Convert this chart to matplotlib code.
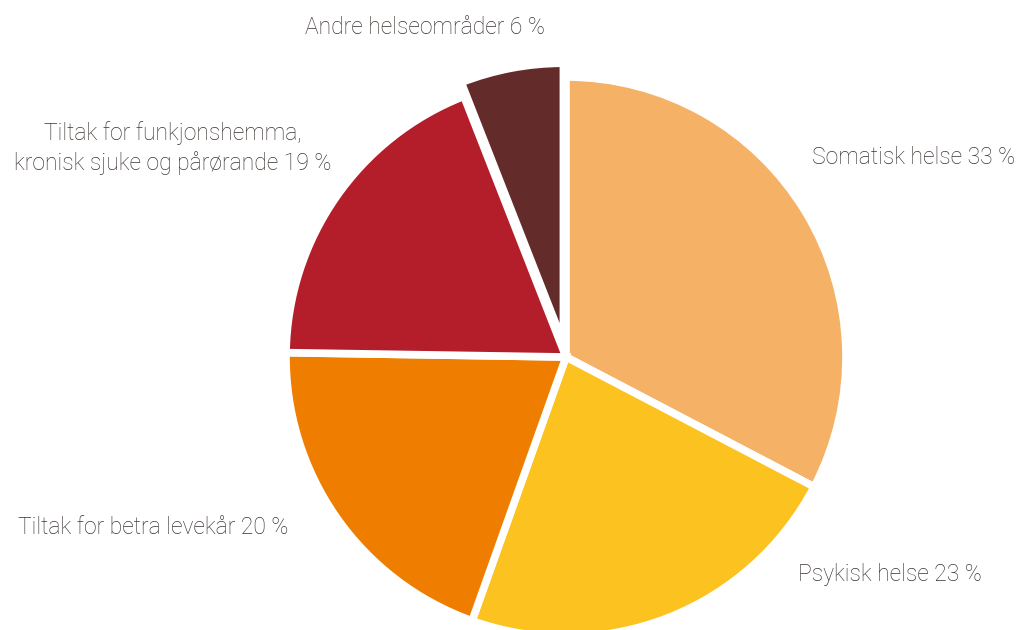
import matplotlib.pyplot as plt

labels = ["Somatisk helse 33 %", "Psykisk helse 23 %", "Tiltak for betra levekår 20 %",
          "Tiltak for funkjonshemma,\nkronisk sjuke og pårørande 19 %", "Andre helseområder 6 %"]
shares = [33, 23, 20, 19, 6]
colors = ["#F5B267", "#FCC21F", "#EF7D00", "#B41E2B", "#642B2B"]
explode = [0, 0, 0, 0, 0.05]

W, H = 1022, 630
cx, cy, r = 566, 357, 280  # pie centre and radius in pixels

fig = plt.figure(figsize=(W / 100, H / 100), dpi=100)
ax = fig.add_axes([0, 0, 1, 1])
ax.pie(shares, colors=colors, explode=explode, startangle=90, counterclock=False,
       wedgeprops=dict(edgecolor="white", linewidth=5.5))
ax.set_xlim(-cx / r, (W - cx) / r)
ax.set_ylim(-(H - cy) / r, cy / r)
ax.set_aspect("equal")
ax.axis("off")

txt = dict(fontsize=16.5, color="#3b3431", family=["Roboto", "DejaVu Sans"], fontweight="light")
fig.text(812 / W, 1 - 158 / H, labels[0], ha="left", va="center", **txt)
fig.text(798 / W, 1 - 575 / H, labels[1], ha="left", va="center", **txt)
fig.text(18 / W, 1 - 528 / H, labels[2], ha="left", va="center", **txt)
fig.text(173 / W, 1 - 148 / H, labels[3], ha="center", va="center", linespacing=1.35, **txt)
fig.text(425 / W, 1 - 27 / H, labels[4], ha="center", va="center", **txt)

fig.savefig("out.png", dpi=100)
